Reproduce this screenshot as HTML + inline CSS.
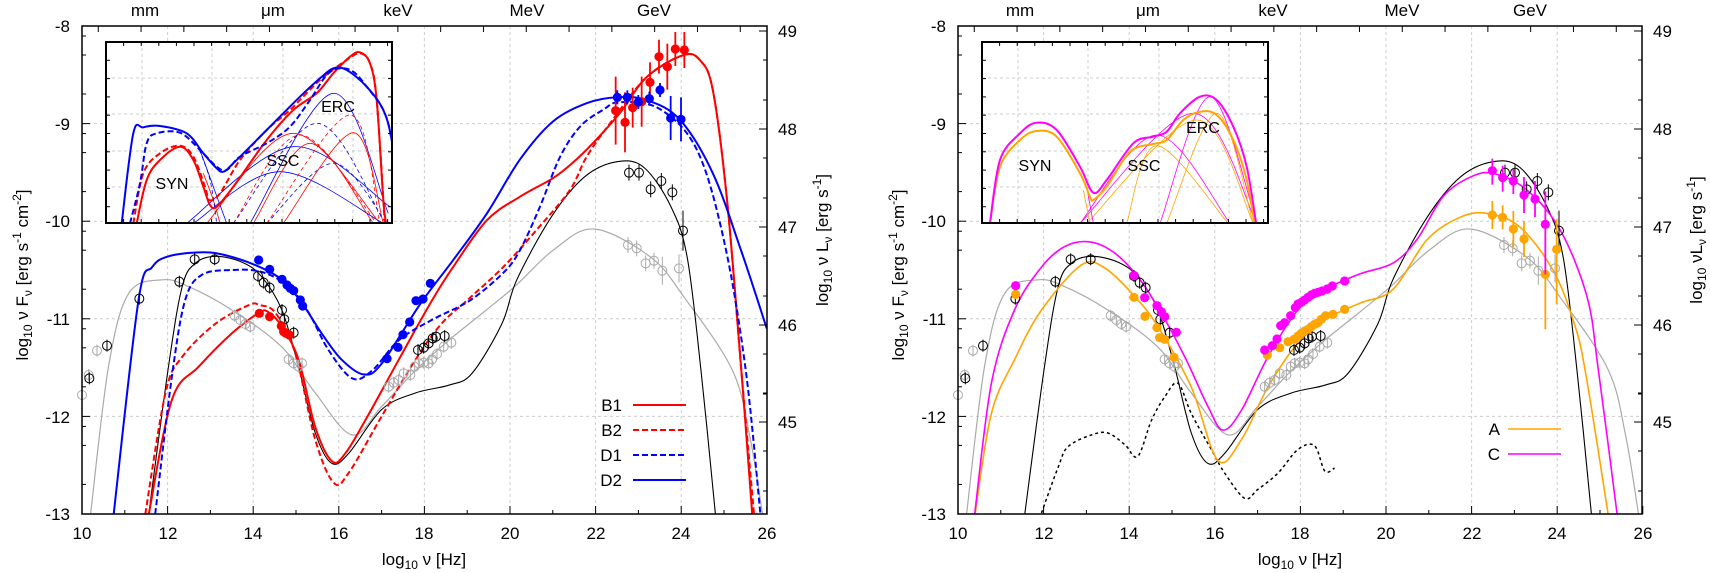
<!DOCTYPE html>
<html><head><meta charset="utf-8"><style>
html,body{margin:0;padding:0;background:#fff;}
svg{display:block;font-family:"Liberation Sans",Arial,sans-serif;}
</style></head><body>
<svg id="s" width="1710" height="573" viewBox="0 0 1710 573" xmlns="http://www.w3.org/2000/svg">
<defs>
<clipPath id="cL"><rect x="82" y="26" width="685" height="488"/></clipPath>
<clipPath id="cR"><rect x="958" y="26" width="684" height="488"/></clipPath>
<clipPath id="iL"><rect x="106" y="42" width="286" height="181"/></clipPath>
<clipPath id="iR"><rect x="982" y="42" width="286" height="181"/></clipPath>
</defs>
<g id="grid"></g>
<g id="curves"></g>
<g id="pts"></g>
<g id="inset"></g>
<g id="axes" fill="none" stroke="#000" stroke-width="1.5"></g>
<g font-size="17" fill="#000">
<g text-anchor="end">
<text x="70" y="32">-8</text><text x="70" y="130">-9</text><text x="70" y="227">-10</text>
<text x="70" y="325">-11</text><text x="70" y="423">-12</text><text x="70" y="520">-13</text>
<text x="946" y="32">-8</text><text x="946" y="130">-9</text><text x="946" y="227">-10</text>
<text x="946" y="325">-11</text><text x="946" y="423">-12</text><text x="946" y="520">-13</text>
</g>
<g text-anchor="start">
<text x="778" y="37">49</text><text x="778" y="135">48</text><text x="778" y="233">47</text><text x="778" y="331">46</text><text x="778" y="428">45</text>
<text x="1653" y="37">49</text><text x="1653" y="135">48</text><text x="1653" y="233">47</text><text x="1653" y="331">46</text><text x="1653" y="428">45</text>
</g>
<g text-anchor="middle">
<text x="82" y="539">10</text><text x="168" y="539">12</text><text x="253" y="539">14</text><text x="339" y="539">16</text><text x="424" y="539">18</text><text x="510" y="539">20</text><text x="596" y="539">22</text><text x="681" y="539">24</text><text x="767" y="539">26</text>
<text x="958" y="539">10</text><text x="1044" y="539">12</text><text x="1129" y="539">14</text><text x="1215" y="539">16</text><text x="1300" y="539">18</text><text x="1386" y="539">20</text><text x="1472" y="539">22</text><text x="1557" y="539">24</text><text x="1643" y="539">26</text>
<text x="145" y="16">mm</text><text x="273" y="16">μm</text><text x="398" y="16">keV</text><text x="527" y="16">MeV</text><text x="654" y="16">GeV</text>
<text x="1020" y="16">mm</text><text x="1148" y="16">μm</text><text x="1273" y="16">keV</text><text x="1402" y="16">MeV</text><text x="1530" y="16">GeV</text>
<text x="424" y="565">log<tspan font-size="12" dy="4">10</tspan><tspan dy="-4"> ν [Hz]</tspan></text>
<text x="1300" y="565">log<tspan font-size="12" dy="4">10</tspan><tspan dy="-4"> ν [Hz]</tspan></text>
</g>
<text transform="translate(28,275) rotate(-90)" text-anchor="middle">log<tspan font-size="12" dy="4">10</tspan><tspan dy="-4"> ν F</tspan><tspan font-size="12" dy="4">ν</tspan><tspan dy="-4"> [erg s</tspan><tspan font-size="12" dy="-7">-1</tspan><tspan dy="7"> cm</tspan><tspan font-size="12" dy="-7">-2</tspan><tspan dy="7">]</tspan></text>
<text transform="translate(904,275) rotate(-90)" text-anchor="middle">log<tspan font-size="12" dy="4">10</tspan><tspan dy="-4"> ν F</tspan><tspan font-size="12" dy="4">ν</tspan><tspan dy="-4"> [erg s</tspan><tspan font-size="12" dy="-7">-1</tspan><tspan dy="7"> cm</tspan><tspan font-size="12" dy="-7">-2</tspan><tspan dy="7">]</tspan></text>
<text transform="translate(828,240) rotate(-90)" text-anchor="middle">log<tspan font-size="12" dy="4">10</tspan><tspan dy="-4"> ν L</tspan><tspan font-size="12" dy="4">ν</tspan><tspan dy="-4"> [erg s</tspan><tspan font-size="12" dy="-7">-1</tspan><tspan dy="7">]</tspan></text>
<text transform="translate(1702,240) rotate(-90)" text-anchor="middle">log<tspan font-size="12" dy="4">10</tspan><tspan dy="-4"> νL</tspan><tspan font-size="12" dy="4">ν</tspan><tspan dy="-4"> [erg s</tspan><tspan font-size="12" dy="-7">-1</tspan><tspan dy="7">]</tspan></text>
<g text-anchor="end">
<text x="622" y="411">B1</text><text x="622" y="436">B2</text><text x="622" y="461">D1</text><text x="622" y="486">D2</text>
<text x="1500" y="435">A</text><text x="1500" y="460">C</text>
</g>
</g>
<g id="insettext" font-size="16" fill="#000" text-anchor="middle">
<text x="172" y="189">SYN</text><text x="283" y="166">SSC</text><text x="338" y="112">ERC</text>
<text x="1035" y="171">SYN</text><text x="1144" y="171">SSC</text><text x="1203" y="133">ERC</text>
</g>
<g stroke-width="2">
<line x1="633" y1="405" x2="686" y2="405" stroke="#f00"/>
<line x1="633" y1="430" x2="686" y2="430" stroke="#f00" stroke-dasharray="6,3"/>
<line x1="633" y1="455" x2="686" y2="455" stroke="#00f" stroke-dasharray="6,3"/>
<line x1="633" y1="480" x2="686" y2="480" stroke="#00f"/>
<line x1="1508" y1="429" x2="1561" y2="429" stroke="#ffa500" stroke-width="1.5"/>
<line x1="1508" y1="454" x2="1561" y2="454" stroke="#f0f" stroke-width="1.5"/>
</g>
</svg>
<script>
var NS="http://www.w3.org/2000/svg";
function el(p,t,a){var e=document.createElementNS(NS,t);for(var k in a)e.setAttribute(k,a[k]);p.appendChild(e);return e;}
function path(pts){if(pts.length<2)return"";var d="M"+pts[0][0].toFixed(1)+","+pts[0][1].toFixed(1);
for(var i=0;i<pts.length-1;i++){var p0=pts[i-1]||pts[i],p1=pts[i],p2=pts[i+1],p3=pts[i+2]||p2;
var c1=[p1[0]+(p2[0]-p0[0])/6,p1[1]+(p2[1]-p0[1])/6],c2=[p2[0]-(p3[0]-p1[0])/6,p2[1]-(p3[1]-p1[1])/6];
d+="C"+c1[0].toFixed(1)+","+c1[1].toFixed(1)+" "+c2[0].toFixed(1)+","+c2[1].toFixed(1)+" "+p2[0].toFixed(1)+","+p2[1].toFixed(1);}return d;}
function PX(o,X){return o+(X-10)*42.8;} function PY(Y){return 26-(Y+8)*97.6;}
function conv(o,a){return a.map(function(p){return[PX(o,p[0]),PY(p[1])];});}
var G=document.getElementById("grid"),C=document.getElementById("curves"),P=document.getElementById("pts"),I=document.getElementById("inset"),A=document.getElementById("axes");
[82,958].forEach(function(o){for(var X=12;X<26;X+=2)el(G,"line",{x1:PX(o,X),x2:PX(o,X),y1:26,y2:514,stroke:"#ccc","stroke-dasharray":"3,3"});
for(var Y=-9;Y>=-12;Y--)el(G,"line",{x1:o,x2:o+685,y1:PY(Y),y2:PY(Y),stroke:"#ccc","stroke-dasharray":"3,3"});});
function curve(o,clip,d,col,w,dash,g){var a={d:path(conv(o,d)),fill:"none",stroke:col,"stroke-width":w,"clip-path":"url(#"+clip+")"};if(dash)a["stroke-dasharray"]=dash;el(g||C,"path",a);}
var gray=[[10.2,-13],[10.62,-11.49],[11.09,-10.74],[11.87,-10.6],[12.49,-10.67],[13.5,-10.91],[14.67,-11.29],[15.45,-11.76],[16.31,-12.19],[17.0,-11.9],[17.79,-11.53],[18.57,-11.22],[19.39,-10.93],[20.16,-10.65],[21.0,-10.3],[21.96,-10.08],[23.29,-10.37],[24.07,-10.78],[25.19,-11.52],[25.6,-12.2],[25.9,-13]];
var black=[[11.56,-13],[12.02,-11.49],[12.34,-10.67],[12.65,-10.43],[13.12,-10.36],[13.74,-10.42],[14.2,-10.57],[14.67,-10.91],[15.06,-11.49],[15.45,-12.17],[15.83,-12.48],[16.23,-12.38],[17.0,-11.93],[17.79,-11.76],[18.57,-11.68],[19.11,-11.56],[19.81,-11.05],[20.16,-10.6],[20.96,-9.96],[21.73,-9.55],[22.5,-9.39],[23.13,-9.45],[23.76,-9.85],[24.14,-10.37],[24.46,-11.52],[24.8,-13]];
[[82,"cL"],[958,"cR"]].forEach(function(q){curve(q[0],q[1],gray,"#aaa",1.2);curve(q[0],q[1],black,"#000",1.1);});
curve(82,"cL",[[11.48,-13],[11.95,-11.76],[12.34,-11.39],[13.12,-11.05],[13.9,-10.86],[14.15,-10.86],[14.52,-10.94],[14.98,-11.35],[15.45,-12.24],[15.88,-12.68],[16.23,-12.58],[17.0,-12.0],[17.79,-11.42],[18.4,-11.05],[19.0,-10.81],[19.84,-10.47],[20.62,-10.09],[21.4,-9.68],[21.79,-9.34],[22.4,-8.96],[23.2,-8.52],[24.04,-8.3],[24.44,-8.35],[24.74,-8.66],[25.07,-9.78],[25.4,-11.5],[25.7,-13]],"#f00",2,"6,3");
curve(82,"cL",[[11.56,-13],[12.1,-11.83],[12.73,-11.49],[13.5,-11.15],[14.13,-10.94],[14.35,-10.93],[14.67,-11.08],[15.06,-11.42],[15.45,-12.11],[15.84,-12.46],[16.15,-12.38],[16.62,-12.04],[17.4,-11.42],[18.18,-10.81],[18.67,-10.47],[19.46,-9.99],[20.23,-9.75],[21.0,-9.56],[21.47,-9.4],[21.94,-9.2],[22.57,-8.89],[23.2,-8.52],[24.04,-8.3],[24.44,-8.35],[24.74,-8.66],[25.07,-9.78],[25.4,-11.5],[25.66,-13]],"#f00",2);
curve(82,"cL",[[11.71,-13],[12.1,-11.59],[12.41,-10.81],[12.8,-10.55],[13.5,-10.5],[14.2,-10.52],[14.83,-10.67],[15.3,-10.94],[15.76,-11.32],[16.31,-11.61],[16.78,-11.53],[17.4,-11.22],[18.18,-11.01],[19.07,-10.81],[19.84,-10.53],[20.23,-10.3],[20.7,-9.85],[21.17,-9.34],[21.64,-9.03],[22.17,-8.86],[22.57,-8.78],[23.5,-8.85],[24.37,-9.27],[25.0,-10.2],[25.5,-11.5],[25.85,-13]],"#00f",2,"6,3");
curve(82,"cL",[[10.74,-13],[11.32,-10.81],[11.64,-10.47],[12.02,-10.36],[12.73,-10.32],[13.27,-10.34],[14.05,-10.45],[14.67,-10.6],[15.14,-10.84],[15.6,-11.15],[16.07,-11.42],[16.58,-11.57],[17.0,-11.46],[17.9,-10.85],[18.67,-10.4],[19.46,-9.92],[20.23,-9.37],[21.0,-8.98],[21.8,-8.79],[22.5,-8.73],[23.2,-8.76],[23.97,-8.96],[24.74,-9.51],[25.4,-10.3],[26.0,-11.1]],"#00f",2);
curve(958,"cR",[[11.95,-12.99],[12.34,-12.52],[12.57,-12.31],[13.12,-12.19],[13.5,-12.17],[13.9,-12.29],[14.2,-12.41],[14.52,-12.04],[14.83,-11.8],[15.14,-11.66],[15.45,-11.97],[15.92,-12.34],[16.23,-12.58],[16.7,-12.84],[17.0,-12.75],[17.48,-12.58],[17.94,-12.34],[18.33,-12.3],[18.57,-12.56],[18.8,-12.53]],"#000",1.5,"3,3");
curve(958,"cR",[[10.4,-13],[10.78,-11.97],[11.32,-11.42],[11.95,-10.91],[12.88,-10.45],[13.43,-10.48],[14.13,-10.77],[14.67,-11.08],[15.45,-11.7],[16.07,-12.45],[16.62,-12.24],[17.24,-11.7],[17.94,-11.25],[18.57,-11.01],[19.39,-10.84],[20.16,-10.7],[20.96,-10.19],[21.73,-9.96],[22.36,-9.92],[23.13,-10.06],[23.9,-10.5],[24.37,-11.01],[24.65,-11.52],[25.19,-13]],"#ffa500",1.6);
curve(958,"cR",[[10.39,-13],[10.78,-11.66],[11.32,-10.91],[11.95,-10.47],[12.49,-10.26],[13.04,-10.21],[13.58,-10.3],[14.13,-10.53],[14.67,-10.88],[15.3,-11.39],[15.84,-11.9],[16.19,-12.14],[16.62,-11.94],[17.24,-11.39],[17.94,-10.91],[18.57,-10.7],[19.39,-10.54],[20.16,-10.43],[20.72,-10.19],[21.33,-9.75],[21.96,-9.55],[22.5,-9.51],[23.29,-9.68],[24.07,-10.09],[24.7,-10.78],[24.96,-11.52],[25.4,-13]],"#f0f",1.6);
function dot(x,y,col,e1,e2){if(e1)el(P,"line",{x1:x,x2:x,y1:y-e1,y2:y+(e2||e1),stroke:col,"stroke-width":1.8});el(P,"circle",{cx:x,cy:y,r:4.6,fill:col});}
function ring(x,y,col,e){el(P,"line",{x1:x,x2:x,y1:y-(e||6),y2:y+(e||6),stroke:col,"stroke-width":1});el(P,"circle",{cx:x,cy:y,r:4.5,fill:"none",stroke:col,"stroke-width":1});}
function Z(ox,oy,a){return a.map(function(p){return[ox+p[0]/3,oy+p[1]/3];});}
var grayLo=[[0,585],[45,452],[20,525],[458,347],[475,360],[490,372],[505,380],[620,478],[635,490],[650,500],[660,490],[920,560],[935,548],[950,540],[965,520],[985,525],[998,500],[1010,490],[1025,488],[1040,490],[1050,478],[1065,462],[1085,440],[1108,428]];
var blackLo=[[172,296],[75,437],[22,535],[292,245],[338,178],[398,178],[528,228],[545,248],[563,263],[600,330],[607,358],[635,398],[1008,450],[1025,443],[1040,430],[1052,415],[1062,410],[1088,408]];
var grayG=[[432,345],[458,355],[485,400],[510,392],[535,422],[585,415]],blackG=[[435,128],[465,128],[500,178],[532,153],[565,187],[597,302]];
[[82,0],[958,876]].forEach(function(q){var dx=q[0];
Z(dx,200,grayLo).forEach(function(p){ring(p[0],p[1],"#aaa");});
Z(dx,200,blackLo).forEach(function(p){ring(p[0],p[1],"#000");});
Z(1360-876+q[1],130,grayG).forEach(function(p,i){ring(p[0],p[1],"#aaa",i>3?14:8);});
Z(1360-876+q[1],130,blackG).forEach(function(p,i){ring(p[0],p[1],"#000",i==5?20:8);});});
Z(82,200,[[530,180],[563,208],[600,238],[615,255],[625,265],[635,272],[655,300],[662,318],[915,476],[948,442],[963,404],[983,366],[1002,302],[1023,297],[1045,250]]).forEach(function(p){dot(p[0],p[1],"#00f");});
Z(82,200,[[532,340],[563,350],[598,378],[605,395],[612,400],[622,405]]).forEach(function(p){dot(p[0],p[1],"#f00");});
[[707,332,34],[735,367,30],[758,323,20],[785,305,25],[810,247,20],[837,170,17],[862,200,23],[886,147,17],[913,150,18]].forEach(function(a){dot(380+a[0]/3,a[1]/3,"#f00",a[2]);});
Z(380,0,[[712,292],[742,292],[775,306],[808,296],[840,270],[872,354],[903,358]]).forEach(function(p,i){dot(p[0],p[1],"#00f",i>4?22:7);});
Z(958,200,[[173,283],[528,292],[561,349],[597,383],[605,413],[620,418],[648,472],[928,465],[965,443],[990,425],[1008,418],[1020,408],[1030,400],[1040,393],[1050,388],[1060,380],[1070,373],[1080,368],[1090,358],[1103,347],[1125,343],[1160,328]]).forEach(function(p){dot(p[0],p[1],"#ffa500");});
Z(958,200,[[173,257],[528,227],[560,293],[597,317],[610,335],[620,350],[655,397],[920,450],[943,437],[957,417],[968,377],[980,368],[998,347],[1012,323],[1020,312],[1030,307],[1040,300],[1050,292],[1060,285],[1070,280],[1080,277],[1092,273],[1108,267],[1123,258],[1160,243]]).forEach(function(p){dot(p[0],p[1],"#f0f");});
[[397,255,14,14],[428,262,12,12],[460,297,18,18],[492,327,18,18],[556,433,1,55],[590,358,30,55]].forEach(function(a){dot(1360+a[0]/3,130+a[1]/3,"#ffa500",a[2],a[3]);});
[[397,122,12,14],[428,143,12,14],[460,153,12,13],[492,195,18,18],[525,207,18,18],[556,283,33,50]].forEach(function(a){dot(1360+a[0]/3,130+a[1]/3,"#f0f",a[2],a[3]);});
function inset(x0,clip,curves){el(I,"rect",{x:x0,y:42,width:286,height:181,fill:"#fff"});
[36,106,177,247].forEach(function(d){el(I,"line",{x1:x0+d,x2:x0+d,y1:42,y2:223,stroke:"#ccc","stroke-dasharray":"3,3"});});
[78,114,151,187].forEach(function(y){el(I,"line",{x1:x0,x2:x0+286,y1:y,y2:y,stroke:"#ccc","stroke-dasharray":"3,3"});});
var g=el(I,"g",{"clip-path":"url(#"+clip+")"});
curves.forEach(function(c){var a={d:path(Z(c[0],0,c[1])),fill:"none",stroke:c[2],"stroke-width":c[3]};if(c[4])a["stroke-dasharray"]=c[4];el(g,"path",a);});
el(I,"rect",{x:x0,y:42,width:286,height:181,fill:"none",stroke:"#000","stroke-width":2});
for(var t=0;t<286;t+=17.6){el(I,"line",{x1:x0+t,x2:x0+t,y1:223,y2:219,stroke:"#000"});el(I,"line",{x1:x0+t,x2:x0+t,y1:42,y2:46,stroke:"#000"});}
for(var y=42;y<223;y+=18.3){el(I,"line",{x1:x0,x2:x0+4,y1:y,y2:y,stroke:"#000"});el(I,"line",{x1:x0+286,x2:x0+282,y1:y,y2:y,stroke:"#000"});}}
var R="#f00",B="#00f";
inset(106,"iL",[
[0,[[580,670],[840,515],[1150,670]],B,0.8],[0,[[560,670],[880,440],[1170,620]],B,0.8],[0,[[750,670],[1000,280],[1165,640]],B,0.8],[0,[[700,670],[950,370],[1150,660]],B,0.8,"4,3"],[0,[[800,670],[1000,490],[1160,670]],B,0.8,"4,3"],
[0,[[620,670],[880,400],[1140,670]],R,0.8],[0,[[850,670],[1060,398],[1150,670]],R,0.8],[0,[[800,670],[1050,345],[1140,670]],R,0.8,"4,3"],[0,[[700,670],[900,405],[1130,670]],R,0.8,"4,3"],[0,[[760,670],[930,430],[1120,670]],R,0.8],
[0,[[600,450],[640,560],[680,670]],B,0.8],[0,[[610,520],[640,600],[660,670]],R,0.8],[0,[[590,430],[630,540],[650,670]],B,0.8,"4,3"],
[0,[[410,670],[440,540],[480,480],[540,440],[580,480],[610,560],[630,615],[650,620],[700,560],[800,420],[880,330],[950,280],[1000,220],[1050,170],[1080,157],[1110,190],[1130,300],[1150,600],[1160,680]],R,2],
[0,[[400,670],[430,520],[480,460],[540,437],[580,470],[615,560],[628,600],[660,580],[720,480],[800,390],[870,330],[960,240],[1040,180],[1080,160],[1110,190],[1130,300],[1155,680]],R,2,"6,3"],
[0,[[390,670],[420,550],[440,430],[470,400],[540,398],[600,450],[650,500],[680,510],[720,470],[800,430],[870,380],[930,300],[980,225],[1020,205],[1060,215],[1100,260],[1150,330],[1175,420],[1200,600]],B,2,"6,3"],
[0,[[365,670],[400,400],[430,382],[480,378],[560,400],[610,460],[650,505],[670,515],[700,490],[800,390],[900,290],[960,235],[1000,205],[1040,210],[1100,260],[1150,330],[1175,420],[1200,600]],B,2]]);
var O="#ffa500",M="#f0f";
inset(982,"iR",[
[880,[[600,670],[830,405],[1050,670]],M,0.8],[880,[[740,670],[830,437],[1045,670]],O,0.8],[880,[[600,670],[940,340],[1130,670]],M,0.8],[880,[[840,670],[990,290],[1130,670]],M,0.8],[880,[[620,670],[950,360],[1120,670]],O,0.8],[880,[[860,670],[1010,340],[1120,670]],O,0.8],
[880,[[620,560],[640,670]],M,0.8],[880,[[610,570],[630,670]],O,0.8],
[880,[[330,670],[360,500],[420,420],[470,393],[530,410],[600,520],[630,590],[640,600],[680,560],[750,455],[820,432],[860,420],[910,360],[960,335],[1010,345],[1060,420],[1100,540],[1125,680]],O,2],
[880,[[330,670],[360,480],[420,400],[470,368],[530,390],[600,500],[640,578],[680,540],[760,430],[820,410],[860,395],[900,340],[960,290],[1010,300],[1060,380],[1100,500],[1130,680]],M,2]]);
[[82,767],[958,1642]].forEach(function(q){var o=q[0],r=q[1];
el(A,"rect",{x:o,y:26,width:r-o,height:488});
for(var X=10;X<=26;X++){var x=PX(o,X),L=X%2?4:8;el(A,"line",{x1:x,x2:x,y1:514,y2:514-L,"stroke-width":1});}
for(var X=10.38;X<26;X+=1){var x=PX(o,X);el(A,"line",{x1:x,x2:x,y1:26,y2:32,"stroke-width":1});}
for(var Y=-8;Y>=-13;Y--){var y=PY(Y);el(A,"line",{x1:o,x2:o+8,y1:y,y2:y,"stroke-width":1});
[10,29,68].forEach(function(d){if(y+d<514)el(A,"line",{x1:o,x2:o+4,y1:y+d,y2:y+d,"stroke-width":1});});}
[31,129,227,325,422].forEach(function(y){el(A,"line",{x1:r,x2:r-8,y1:y,y2:y,"stroke-width":1});
[29,69,-29].forEach(function(d){if(y+d<514&&y+d>26)el(A,"line",{x1:r,x2:r-4,y1:y+d,y2:y+d,"stroke-width":1});});});});
</script>
</body></html>
